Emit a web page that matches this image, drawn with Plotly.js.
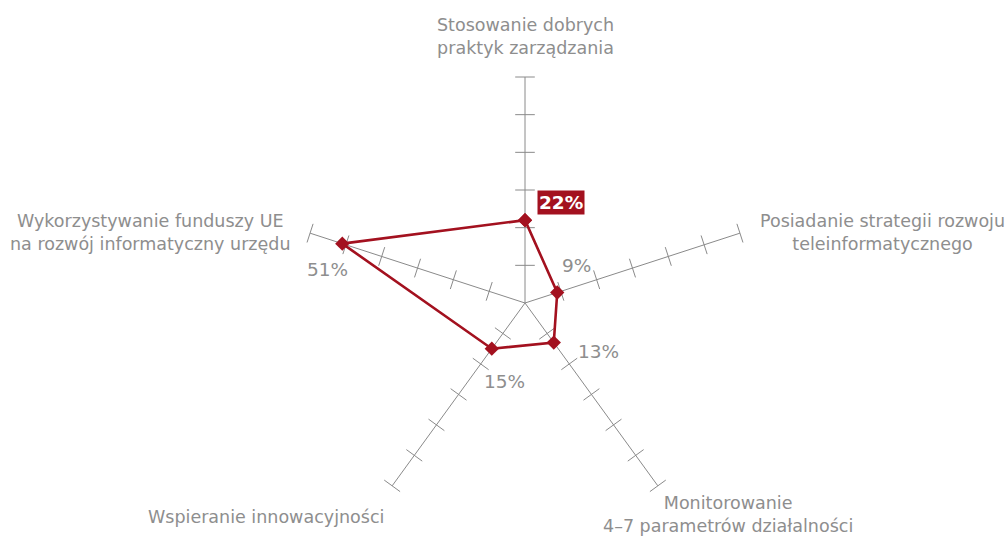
<!DOCTYPE html>
<html>
<head>
<meta charset="utf-8">
<script src="https://cdn.plot.ly/plotly-3.0.1.min.js"></script>
<style>html,body{margin:0;padding:0;background:#fff}#chart{width:1007px;height:538px}</style>
</head>
<body>
<div id="chart"></div>
<script>
// ---- data ----
var categories = [
  "Stosowanie dobrych<br>praktyk zarządzania",
  "Posiadanie strategii rozwoju<br>teleinformatycznego",
  "Monitorowanie<br>4–7 parametrów działalności",
  "Wspieranie innowacyjności",
  "Wykorzystywanie funduszy UE<br>na rozwój informatyczny urzędu"
];
var values = [22, 9, 13, 15, 51];
var valueLabels = ["22%", "9%", "13%", "15%", "51%"];
var tickValues = [10, 20, 30, 40, 50, 60];
var highlightIndex = 0;

// ---- styles / positions (layout only) ----
var RED = "#a3111f";
var GREY_TEXT = "#8e8e8e";
var GREY_LINE = "#8a8a8a";
var FONT = "DejaVu Sans";
var W = 1007, H = 538;
var catPos = [[525, 37], [882, 232], [728, 514], [266, 517], [150, 232]];
var valPos = [[561, 202.5], [576, 265], [598, 351], [504, 381], [327, 269]];

var N = categories.length;
var thetaKeys = categories.map(function (c, i) { return "c" + i; });

// tick marks on every spoke
var tR = [], tT = [], tA = [];
thetaKeys.forEach(function (k, i) {
  tickValues.forEach(function (v) {
    tR.push(v); tT.push(k); tA.push(i * 360 / N);
  });
});

var traces = [
  {
    type: "scatterpolar", mode: "markers", r: tR, theta: tT,
    hoverinfo: "skip", showlegend: false, cliponaxis: false,
    marker: { symbol: "line-ew", size: 14, angle: tA, color: GREY_LINE,
              line: { color: GREY_LINE, width: 1 } }
  },
  {
    type: "scatterpolar", mode: "lines+markers",
    r: values.concat([values[0]]), theta: thetaKeys.concat([thetaKeys[0]]),
    showlegend: false, cliponaxis: false,
    line: { color: RED, width: 2.6 },
    marker: { symbol: "diamond", size: 11, color: RED }
  }
];

var R = 226, cx = 525, cy = 303;
var annotations = [];
categories.forEach(function (c, i) {
  annotations.push({
    xref: "paper", yref: "paper", x: catPos[i][0] / W, y: 1 - catPos[i][1] / H,
    xanchor: "center", yanchor: "middle", showarrow: false, align: "center",
    text: c, font: { family: FONT, size: 17.5, color: GREY_TEXT }
  });
});
valueLabels.forEach(function (t, i) {
  var hl = i === highlightIndex;
  annotations.push({
    xref: "paper", yref: "paper", x: valPos[i][0] / W, y: 1 - valPos[i][1] / H,
    xanchor: "center", yanchor: "middle", showarrow: false,
    text: hl ? "<b>" + t + "</b>" : t,
    bgcolor: hl ? RED : "rgba(0,0,0,0)", borderpad: hl ? 1 : 0,
    font: { family: FONT, size: 18.5, color: hl ? "#ffffff" : GREY_TEXT }
  });
});

var layout = {
  width: W, height: H,
  margin: { l: 0, r: 0, t: 0, b: 0 },
  paper_bgcolor: "#ffffff",
  showlegend: false,
  polar: {
    domain: { x: [(cx - R) / W, (cx + R) / W], y: [(H - cy - R) / H, (H - cy + R) / H] },
    bgcolor: "rgba(0,0,0,0)",
    radialaxis: { range: [0, 60], showgrid: false, showline: false, showticklabels: false, ticks: "" },
    angularaxis: {
      type: "category", categoryarray: thetaKeys, rotation: 90, direction: "clockwise",
      showgrid: true, gridcolor: GREY_LINE, gridwidth: 1,
      showline: false, showticklabels: false, ticks: ""
    }
  },
  annotations: annotations
};

Plotly.newPlot("chart", traces, layout, { displayModeBar: false, staticPlot: true });
</script>
</body>
</html>
